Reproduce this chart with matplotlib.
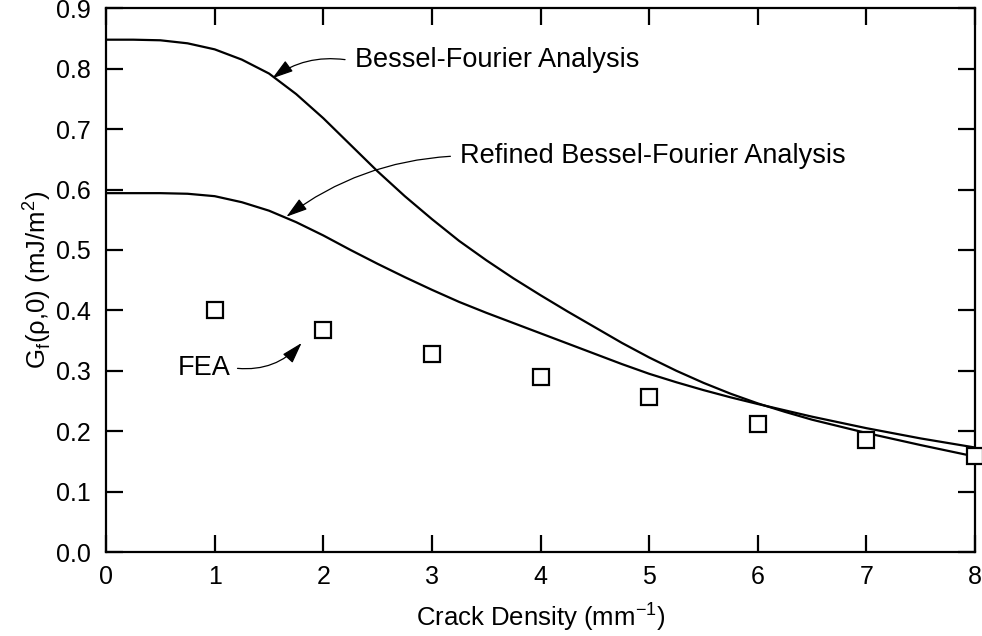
import matplotlib
matplotlib.use("Agg")
import matplotlib.pyplot as plt

plt.rcParams["font.family"] = ["Liberation Sans", "DejaVu Sans"]

# data
bessel_x = [0, 0.25, 0.5, 0.75, 1.0, 1.25, 1.5, 1.75, 2.0, 2.25, 2.5, 2.75, 3.0,
            3.25, 3.5, 3.75, 4.0, 4.25, 4.5, 4.75, 5.0, 5.25, 5.5, 5.75, 6.0,
            6.25, 6.5, 6.75, 7.0, 7.5, 8.0]
bessel = [0.848, 0.848, 0.847, 0.842, 0.832, 0.815, 0.792, 0.758, 0.718, 0.674,
          0.630, 0.589, 0.551, 0.515, 0.483, 0.453, 0.425, 0.398, 0.372, 0.346,
          0.322, 0.300, 0.280, 0.262, 0.246, 0.232, 0.219, 0.208, 0.197, 0.177,
          0.158]
refined_x = [0, 0.5, 0.75, 1.0, 1.25, 1.5, 1.75, 2.0, 2.25, 2.5, 2.75, 3.0, 3.25,
             3.5, 3.75, 4.0, 4.25, 4.5, 4.75, 5.0, 5.25, 5.5, 5.75, 6.0, 6.5,
             7.0, 7.5, 8.0]
refined = [0.594, 0.594, 0.593, 0.589, 0.579, 0.565, 0.546, 0.524, 0.500, 0.477,
           0.455, 0.434, 0.414, 0.396, 0.379, 0.362, 0.345, 0.328, 0.311, 0.295,
           0.281, 0.268, 0.256, 0.245, 0.224, 0.205, 0.188, 0.173]
fea_x = [1, 2, 3, 4, 5, 6, 7, 8]
fea = [0.400, 0.367, 0.328, 0.290, 0.256, 0.212, 0.186, 0.159]

fig = plt.figure(figsize=(9.82, 6.36), dpi=100)
ax = fig.add_axes([0.108, 0.132, 0.885, 0.855])

ax.plot(bessel_x, bessel, color="black", lw=1.6)
ax.plot(refined_x, refined, color="black", lw=1.6)
ax.plot(fea_x, fea, "s", ms=12, mfc="white", mec="black", mew=1.6,
        clip_on=False, zorder=5)

ax.set_xlim(0, 8)
ax.set_ylim(0, 0.9)
ax.set_xticks(range(0, 9))
ax.set_yticks([i / 10 for i in range(10)])
ax.set_yticklabels([f"{i / 10:.1f}" for i in range(10)])
ax.tick_params(direction="in", length=12, width=1.6, labelsize=18,
               top=True, right=True)
ax.tick_params(axis="x", pad=9)
ax.tick_params(axis="y", pad=11)
for s in ax.spines.values():
    s.set_linewidth(1.6)

ax.set_xlabel("Crack Density (mm$^{\\mathregular{-1}}$)", fontsize=18.5, labelpad=8)
ax.set_ylabel("G$_\\mathregular{f}$(ρ,0) (mJ/m$^\\mathregular{2}$)", fontsize=18.5, labelpad=2)

arrow = dict(arrowstyle="-|>,head_length=1.3,head_width=0.4", color="black",
             lw=0.9, shrinkA=0, shrinkB=0)
ax.annotate("", xy=(1.53, 0.784), xytext=(2.20, 0.815),
            arrowprops=dict(arrow, connectionstyle="arc3,rad=0.2"))
ax.text(2.29, 0.815, "Bessel-Fourier Analysis", fontsize=19.5,
        va="center", ha="left")
ax.annotate("", xy=(1.66, 0.555), xytext=(3.17, 0.655),
            arrowprops=dict(arrow, connectionstyle="arc3,rad=0.15"))
ax.text(3.26, 0.655, "Refined Bessel-Fourier Analysis", fontsize=19.5,
        va="center", ha="left")
ax.annotate("", xy=(1.80, 0.346), xytext=(1.21, 0.304),
            arrowprops=dict(arrow, connectionstyle="arc3,rad=0.25"))
ax.text(0.66, 0.304, "FEA", fontsize=19.5, va="center", ha="left")

fig.savefig("out.png", dpi=100)
